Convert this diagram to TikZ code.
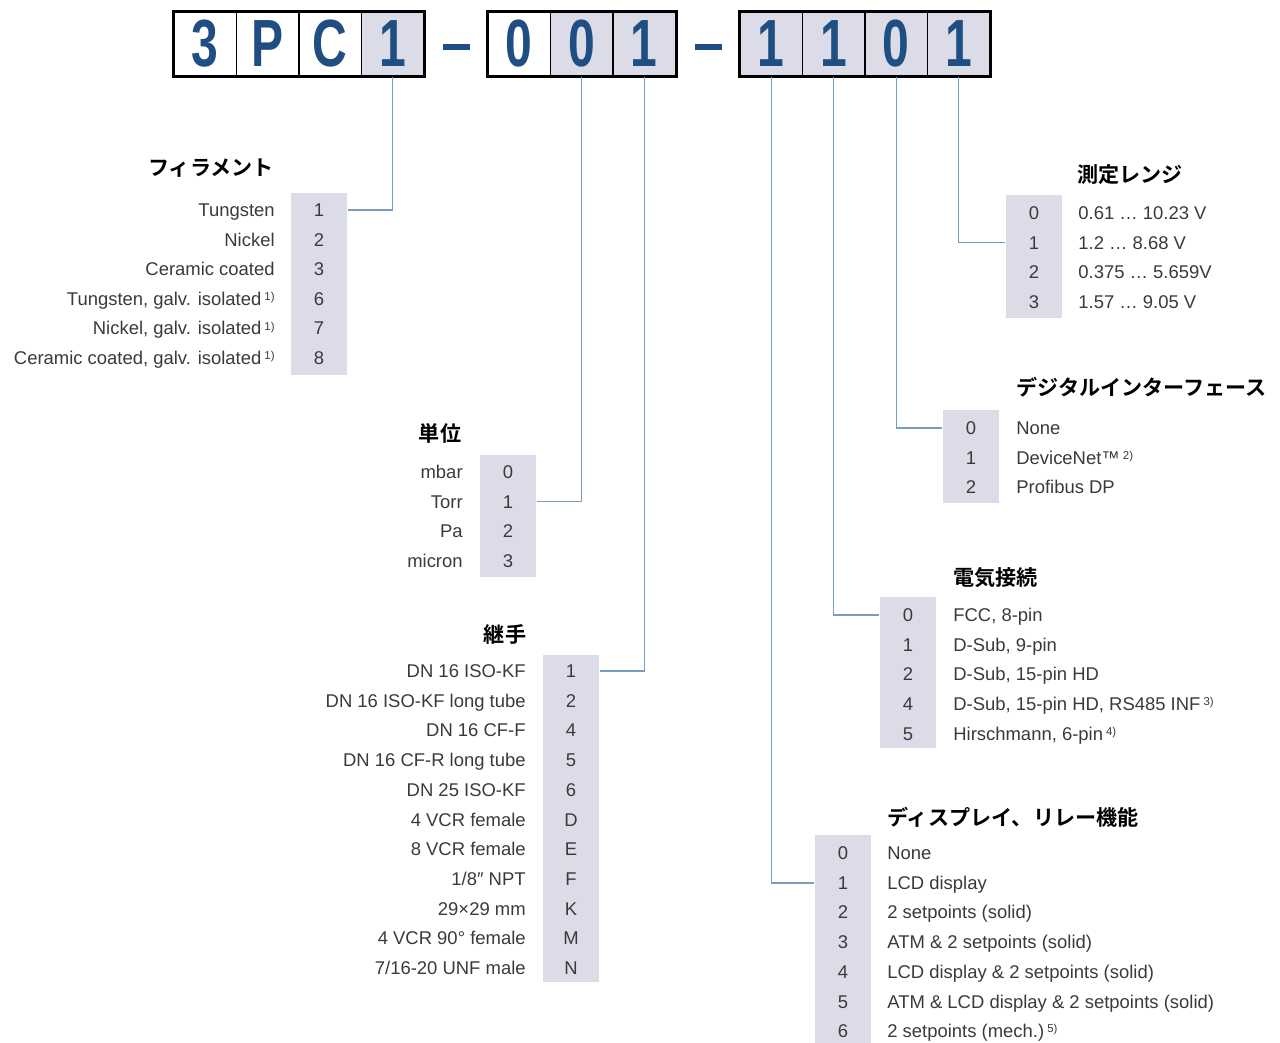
\documentclass[tikz,border=0pt]{standalone}
\usepackage{fontspec}
\setmainfont{Liberation Sans}
\newfontfamily\jpbold{Noto Sans CJK JP Bold}

\definecolor{codeblue}{HTML}{1F4E82}
\definecolor{colgray}{HTML}{DCDCE8}
\definecolor{linkblue}{HTML}{7A9CC0}
\definecolor{txtgray}{HTML}{3A3A3A}

\newcommand\codedigit[1]{\scalebox{0.72}[1]{#1}}
\newcommand\fnote[1]{\,\raisebox{0.5ex}{\fontsize{6.5}{6.5}\selectfont #1}}

\begin{document}
\begin{tikzpicture}[
    x=0.02cm, y=-0.02cm,
    codebox/.style={draw=black, line width=1pt, minimum width=1.25cm, minimum height=1.28cm,
        inner sep=0pt, text=codeblue, font=\fontsize{38}{38}\selectfont\bfseries},
    codegray/.style={codebox, fill=colgray},
    dashbar/.style={fill=codeblue, minimum width=0.54cm, minimum height=0.12cm, inner sep=0pt},
    col/.style={fill=colgray, minimum width=1.13cm, inner sep=0pt},
    num/.style={anchor=base, inner sep=0pt, text=txtgray, font=\fontsize{10.5}{12}\selectfont},
    lbl/.style={inner sep=0pt, text=txtgray, font=\fontsize{10.5}{12}\selectfont},
    title/.style={inner sep=0pt, font=\jpbold\fontsize{12}{13}\selectfont},
    conn/.style={draw=linkblue, line width=0.8pt}
]
    \useasboundingbox (0,0) rectangle (1280,1043);

    % type code
    \node[codebox] (a1) at (205.25,44) {\codedigit{3}};
    \node[codebox] (a2) at (267.75,44) {\codedigit{P}};
    \node[codebox] (a3) at (330.25,44) {\codedigit{C}};
    \node[codegray] (a4) at (392.75,44) {\codedigit{1}};
    \node[dashbar] (dash1) at (456,47) {};
    \node[codebox] (b1) at (519.25,44) {\codedigit{0}};
    \node[codegray] (b2) at (581.75,44) {\codedigit{0}};
    \node[codegray] (b3) at (644.25,44) {\codedigit{1}};
    \node[dashbar] (dash2) at (708,47) {};
    \node[codegray] (c1) at (771.25,44) {\codedigit{1}};
    \node[codegray] (c2) at (833.75,44) {\codedigit{1}};
    \node[codegray] (c3) at (896.25,44) {\codedigit{0}};
    \node[codegray] (c4) at (958.75,44) {\codedigit{1}};
    \draw[line width=1.8pt] (a1.north west) rectangle (a4.south east);
    \draw[line width=1.8pt] (b1.north west) rectangle (b3.south east);
    \draw[line width=1.8pt] (c1.north west) rectangle (c4.south east);

    % filament
    \node[title] (filtitle) at (211,168) {フィラメント};
    \node[col, minimum height=3.64cm] (filcol) at (319,284) {};
    \foreach \n/\t [count=\i from 0] in {1/Tungsten, 2/Nickel, 3/Ceramic coated,
        6/{Tungsten, galv. isolated\fnote{1)}}, 7/{Nickel, galv. isolated\fnote{1)}},
        8/{Ceramic coated, galv. isolated\fnote{1)}}} {
        \node[num] (fil\n) at (319,216.5+29.6*\i) {\n};
        \node[lbl, anchor=base east] (fillbl\n) at (275,216.5+29.6*\i) {\t};
    }
    \draw[conn] (a4.south) |- (filcol.east |- fil1);

    % unit
    \node[title] (unittitle) at (440,433) {単位};
    \node[col, minimum height=2.44cm] (unitcol) at (508,516) {};
    \foreach \n/\t [count=\i from 0] in {0/mbar, 1/Torr, 2/Pa, 3/micron} {
        \node[num] (unit\n) at (508,478.5+29.6*\i) {\n};
        \node[lbl, anchor=base east] (unitlbl\n) at (463,478.5+29.6*\i) {\t};
    }
    \draw[conn] (b2.south) |- (unitcol.east |- unit1);

    % fitting
    \node[title] (fittitle) at (505,634) {継手};
    \node[col, minimum height=6.54cm] (fitcol) at (571,818.5) {};
    \foreach \n/\t [count=\i from 0] in {1/DN 16 ISO-KF, 2/DN 16 ISO-KF long tube,
        4/DN 16 CF-F, 5/DN 16 CF-R long tube, 6/DN 25 ISO-KF, D/4 VCR female,
        E/8 VCR female, F/{1/8″ NPT}, K/29×29 mm, M/4 VCR 90° female,
        N/{7/16-20 UNF male}} {
        \node[num] (fit\n) at (571,677.5+29.7*\i) {\n};
        \node[lbl, anchor=base east] (fitlbl\n) at (526,677.5+29.7*\i) {\t};
    }
    \draw[conn] (b3.south) |- (fitcol.east |- fit1);

    % measuring range
    \node[title, anchor=west] (rngtitle) at (1077,175) {測定レンジ};
    \node[col, minimum height=2.46cm] (rngcol) at (1034,256.5) {};
    \foreach \n/\t [count=\i from 0] in {0/{0.61 … 10.23 V}, 1/{1.2 … 8.68 V},
        2/{0.375 … 5.659V}, 3/{1.57 … 9.05 V}} {
        \node[num] (rng\n) at (1034,219.5+29.6*\i) {\n};
        \node[lbl, anchor=base west] (rnglbl\n) at (1078,219.5+29.6*\i) {\t};
    }
    \draw[conn] (c4.south) |- (rngcol.west |- rng1);

    % digital interface
    \node[title, anchor=west] (digtitle) at (1016,387) {デジタルインターフェース};
    \node[col, minimum height=1.86cm] (digcol) at (971,456.5) {};
    \foreach \n/\t [count=\i from 0] in {0/None, 1/{DeviceNet™\fnote{2)}}, 2/Profibus DP} {
        \node[num] (dig\n) at (971,434.5+29.6*\i) {\n};
        \node[lbl, anchor=base west] (diglbl\n) at (1016,434.5+29.6*\i) {\t};
    }
    \draw[conn] (c3.south) |- (digcol.west |- dig0);

    % electrical connection
    \node[title, anchor=west] (eletitle) at (953,578) {電気接続};
    \node[col, minimum height=3.02cm] (elecol) at (908,672.5) {};
    \foreach \n/\t [count=\i from 0] in {0/{FCC, 8-pin}, 1/{D-Sub, 9-pin},
        2/{D-Sub, 15-pin HD}, 4/{D-Sub, 15-pin HD, RS485 INF\fnote{3)}},
        5/{Hirschmann, 6-pin\fnote{4)}}} {
        \node[num] (ele\n) at (908,621.5+29.7*\i) {\n};
        \node[lbl, anchor=base west] (elelbl\n) at (953,621.5+29.7*\i) {\t};
    }
    \draw[conn] (c2.south) |- (elecol.west |- ele0);

    % display, relay
    \node[title, anchor=west] (dsptitle) at (887,817) {ディスプレイ、リレー機能};
    \node[col, minimum height=4.16cm] (dspcol) at (843,939) {};
    \foreach \n/\t [count=\i from 0] in {0/None, 1/LCD display, 2/2 setpoints (solid),
        3/ATM \& 2 setpoints (solid), 4/LCD display \& 2 setpoints (solid),
        5/ATM \& LCD display \& 2 setpoints (solid), 6/{2 setpoints (mech.)\fnote{5)}}} {
        \node[num] (dsp\n) at (843,859.5+29.7*\i) {\n};
        \node[lbl, anchor=base west] (dsplbl\n) at (887,859.5+29.7*\i) {\t};
    }
    \draw[conn] (c1.south) |- (dspcol.west |- dsp1);
\end{tikzpicture}
\end{document}
